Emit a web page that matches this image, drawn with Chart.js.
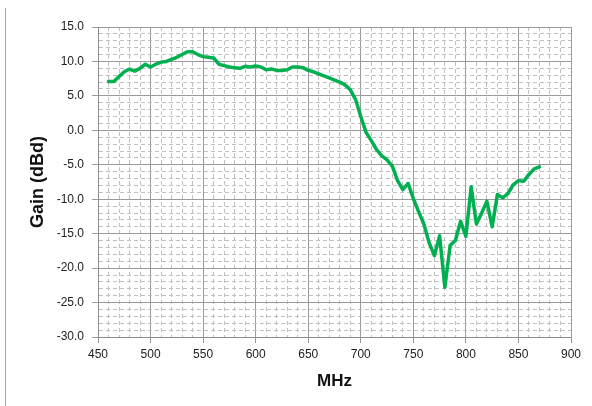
<!DOCTYPE html>
<html>
<head>
<meta charset="utf-8">
<script src="https://cdn.jsdelivr.net/npm/chart.js@4/dist/chart.umd.min.js"></script>
<style>
  html, body { margin: 0; padding: 0; background: #fff; }
  #wrap { width: 592px; height: 406px; position: relative; }
</style>
</head>
<body>
<div id="wrap"><canvas id="grafico" width="592" height="406"></canvas></div>
<script>
// frecuencias (MHz) y ganancia (dBd)
const frecuencias = [460, 465, 470, 475, 480, 485, 490, 495, 500, 505, 510, 515, 520, 525, 530, 535, 540, 545, 550, 555,
    560, 565, 570, 575, 580, 585, 590, 595, 600, 605, 610, 615, 620, 625, 630, 635, 640, 645, 650, 655,
    660, 665, 670, 675, 680, 685, 690, 695, 700, 705, 710, 715, 720, 725, 730, 735, 740, 745, 750, 755,
    760, 765, 770, 775, 780, 785, 790, 795, 800, 805, 810, 815, 820, 825, 830, 835, 840, 845, 850, 855,
    860, 865, 870];
const ganancia = [7.1, 7.1, 7.8, 8.5, 8.9, 8.6, 9.0, 9.6, 9.2, 9.6, 9.9, 10.0, 10.3, 10.6, 11.0, 11.4, 11.4, 11.0, 10.7, 10.6,
    10.5, 9.6, 9.4, 9.2, 9.1, 9.0, 9.3, 9.2, 9.35, 9.2, 8.8, 8.9, 8.7, 8.7, 8.8, 9.2, 9.2, 9.1, 8.7, 8.5,
    8.2, 7.9, 7.6, 7.3, 7.0, 6.6, 5.9, 4.5, 2.0, -0.3, -1.5, -2.8, -3.7, -4.3, -5.2, -7.3, -8.6, -7.7, -9.9, -11.8,
    -13.6, -16.3, -18.2, -15.3, -22.8, -16.7, -16.0, -13.2, -15.4, -8.2, -13.6, -12.0, -10.3, -14.0, -9.3, -9.8, -9.2, -7.9, -7.3, -7.4,
    -6.4, -5.6, -5.3];

// ejes
const ejeX = { min: 450, max: 900, paso: 10, mayor: 50 };
const ejeY = { min: -30, max: 15, paso: 1, mayor: 5 };

const colorMayor = '#9a9a9a';
const colorMenor = '#c0c0c0';

function esMayor(valor, cada) {
    return Math.abs(valor % cada) < 1e-6;
}

// línea del borde izquierdo del área del gráfico
const bordeIzquierdo = {
    id: 'bordeIzquierdo',
    afterDraw(chart) {
        const c = chart.ctx;
        c.save();
        c.strokeStyle = '#a6a6a6';
        c.lineWidth = 1;
        c.beginPath();
        c.moveTo(5.5, 8);
        c.lineTo(5.5, 406);
        c.stroke();
        c.restore();
    }
};

new Chart(document.getElementById('grafico').getContext('2d'), {
    type: 'line',
    data: {
        datasets: [{
            label: 'Gain',
            data: frecuencias.map((f, i) => ({ x: f, y: ganancia[i] })),
            borderColor: '#00b050',
            borderWidth: 3.5,
            borderCapStyle: 'round',
            borderJoinStyle: 'round',
            pointRadius: 0,
            tension: 0,
            fill: false
        }]
    },
    options: {
        responsive: false,
        animation: false,
        devicePixelRatio: 1,
        layout: { padding: { left: 27, top: 27, right: 21, bottom: 14 } },
        plugins: { legend: { display: false }, tooltip: { enabled: false } },
        scales: {
            x: {
                type: 'linear',
                min: ejeX.min,
                max: ejeX.max,
                afterFit(scale) { scale.height = 55; },
                ticks: {
                    stepSize: ejeX.paso,
                    autoSkip: false,
                    maxRotation: 0,
                    padding: 4,
                    color: '#222',
                    font: { family: 'Liberation Sans', size: 12 },
                    callback: v => esMayor(v, ejeX.mayor) ? String(v) : ''
                },
                grid: {
                    color: ctx => esMayor(ctx.tick.value, ejeX.mayor) ? colorMayor : colorMenor,
                    tickColor: ctx => esMayor(ctx.tick.value, ejeX.mayor) ? colorMayor : 'rgba(0,0,0,0)',
                    tickLength: 6
                },
                border: {
                    color: '#8c8c8c',
                    dash: ctx => (ctx.tick && !esMayor(ctx.tick.value, ejeX.mayor)) ? [4, 3] : []
                },
                title: {
                    display: true,
                    text: 'MHz',
                    color: '#111',
                    padding: 0,
                    font: { family: 'Liberation Sans', size: 17, weight: 'bold' }
                }
            },
            y: {
                type: 'linear',
                min: ejeY.min,
                max: ejeY.max,
                afterFit(scale) { scale.width = 71; },
                ticks: {
                    stepSize: ejeY.paso,
                    autoSkip: false,
                    padding: 8,
                    color: '#222',
                    font: { family: 'Liberation Sans', size: 12 },
                    callback: v => esMayor(v, ejeY.mayor) ? v.toFixed(1) : ''
                },
                grid: {
                    color: ctx => esMayor(ctx.tick.value, ejeY.mayor) ? colorMayor : colorMenor,
                    tickColor: ctx => esMayor(ctx.tick.value, ejeY.mayor) ? colorMayor : 'rgba(0,0,0,0)',
                    tickLength: 6
                },
                border: {
                    color: '#8c8c8c',
                    dash: ctx => (ctx.tick && !esMayor(ctx.tick.value, ejeY.mayor)) ? [4, 3] : []
                },
                title: {
                    display: true,
                    text: 'Gain (dBd)',
                    color: '#111',
                    padding: 0,
                    font: { family: 'Liberation Sans', size: 18, weight: 'bold' }
                }
            }
        }
    },
    plugins: [bordeIzquierdo]
});
</script>
</body>
</html>
